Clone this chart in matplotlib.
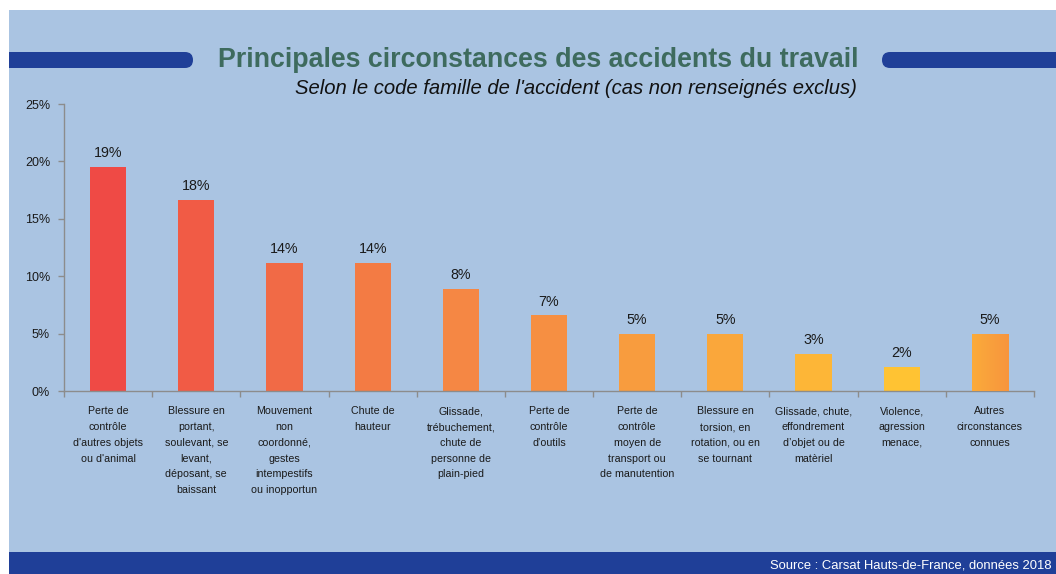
import numpy as np
import matplotlib
matplotlib.use("Agg")
import matplotlib.pyplot as plt
from matplotlib.patches import Rectangle, FancyBboxPatch
from matplotlib.transforms import Affine2D
from matplotlib.colors import LinearSegmentedColormap

# --- données ---
categories = [
    "Perte de\ncontrôle\nd'autres objets\nou d'animal",
    "Blessure en\nportant,\nsoulevant, se\nlevant,\ndéposant, se\nbaissant",
    "Mouvement\nnon\ncoordonné,\ngestes\nintempestifs\nou inopportun",
    "Chute de\nhauteur",
    "Glissade,\ntrébuchement,\nchute de\npersonne de\nplain-pied",
    "Perte de\ncontrôle\nd’outils",
    "Perte de\ncontrôle\nmoyen de\ntransport ou\nde manutention",
    "Blessure en\ntorsion, en\nrotation, ou en\nse tournant",
    "Glissade, chute,\neffondrement\nd’objet ou de\nmatèriel",
    "Violence,\nagression\nmenace,",
    "Autres\ncirconstances\nconnues",
]
valeurs = [19.55, 16.65, 11.12, 11.12, 8.88, 6.58, 4.96, 4.96, 3.25, 2.09, 4.96]
etiquettes = ["19%", "18%", "14%", "14%", "8%", "7%", "5%", "5%", "3%", "2%", "5%"]
yticks = [0, 5, 10, 15, 20, 25]

couleurs = ["#EF4A45", "#F15B45", "#F16A46", "#F37B44", "#F58744", "#F68F42",
            "#F89C3E", "#FAA73B", "#FDB637", "#FFC333", "#FAA53B"]

FOND = "#AAC4E2"
BLEU = "#1F3F98"
W, H = 1056, 574

plt.rcParams['font.family'] = ['Liberation Sans', 'DejaVu Sans']

fig = plt.figure(figsize=(W / 100, H / 100), dpi=100)
fig.patch.set_facecolor("white")

# transformation en pixels (origine en haut à gauche)
px = Affine2D().scale(1 / W, -1 / H).translate(0, 1) + fig.transFigure

fig.patches.append(Rectangle((9, 10), W - 9, H - 10, transform=px,
                             facecolor=FOND, edgecolor="none", zorder=-5))
fig.patches.append(Rectangle((9, 552), W - 9, 22, transform=px,
                             facecolor=BLEU, edgecolor="none", zorder=-4))
# barres du titre
fig.patches.append(FancyBboxPatch((-20, 52), 213, 16, transform=px,
                                  boxstyle="round,pad=0,rounding_size=8",
                                  facecolor=BLEU, edgecolor="none", zorder=-4))
fig.patches.append(FancyBboxPatch((882, 52), 200, 16, transform=px,
                                  boxstyle="round,pad=0,rounding_size=8",
                                  facecolor=BLEU, edgecolor="none", zorder=-4))
# bord blanc à gauche
fig.patches.append(Rectangle((0, 0), 9, H, transform=px,
                             facecolor="white", edgecolor="none", zorder=-3))

fig.text(538, 60, "Principales circonstances des accidents du travail", transform=px,
         ha="center", va="center", fontsize=19.3, fontweight="bold", color="#3E6B5E")
fig.text(576, 89, "Selon le code famille de l'accident (cas non renseignés exclus)",
         transform=px, ha="center", va="center", fontsize=14.6, style="italic",
         color="#111111")
fig.text(1052, 565, "Source : Carsat Hauts-de-France, données 2018", transform=px,
         ha="right", va="center", fontsize=9.4, color="white")

# --- graphique ---
ax = fig.add_axes([64 / W, (H - 391) / H, 970 / W, 287 / H])
ax.set_facecolor("none")
ax.set_zorder(5)

x = np.arange(len(categories))
bars = ax.bar(x, valeurs, width=0.41, color=couleurs, zorder=2)

# dégradé sur la dernière barre
last = bars[-1]
cmap = LinearSegmentedColormap.from_list("deg", ["#FBAB3A", "#F7953E"])
ax.imshow(np.linspace(0, 1, 64).reshape(1, -1), cmap=cmap, aspect="auto",
          extent=(last.get_x(), last.get_x() + last.get_width(), 0, last.get_height()),
          zorder=3)

for b, lab in zip(bars, etiquettes):
    ax.annotate(lab, (b.get_x() + b.get_width() / 2, b.get_height()),
                xytext=(0, 5), textcoords="offset points", ha="center", va="bottom",
                fontsize=10.3, color="#1A1A1A")

ax.set_xlim(-0.5, len(categories) - 0.5)
ax.set_ylim(0, 25)
ax.set_yticks(yticks)
ax.set_yticklabels([f"{v}%" for v in yticks], fontsize=9, color="#1A1A1A")
ax.set_xticks(x)
ax.set_xticklabels(categories, fontsize=7.7, color="#1A1A1A", linespacing=1.72)
ax.set_xticks(np.arange(-0.5, len(categories)), minor=True)
ax.tick_params(axis="x", which="major", length=0, pad=11)
ax.tick_params(axis="x", which="minor", length=4, color="#8C8C8C", width=1)
ax.tick_params(axis="y", length=4, color="#8C8C8C", width=1, pad=6)

for s in ["top", "right"]:
    ax.spines[s].set_visible(False)
for s in ["left", "bottom"]:
    ax.spines[s].set_color("#8C8C8C")
    ax.spines[s].set_linewidth(1)

fig.savefig("out.png", dpi=100)
